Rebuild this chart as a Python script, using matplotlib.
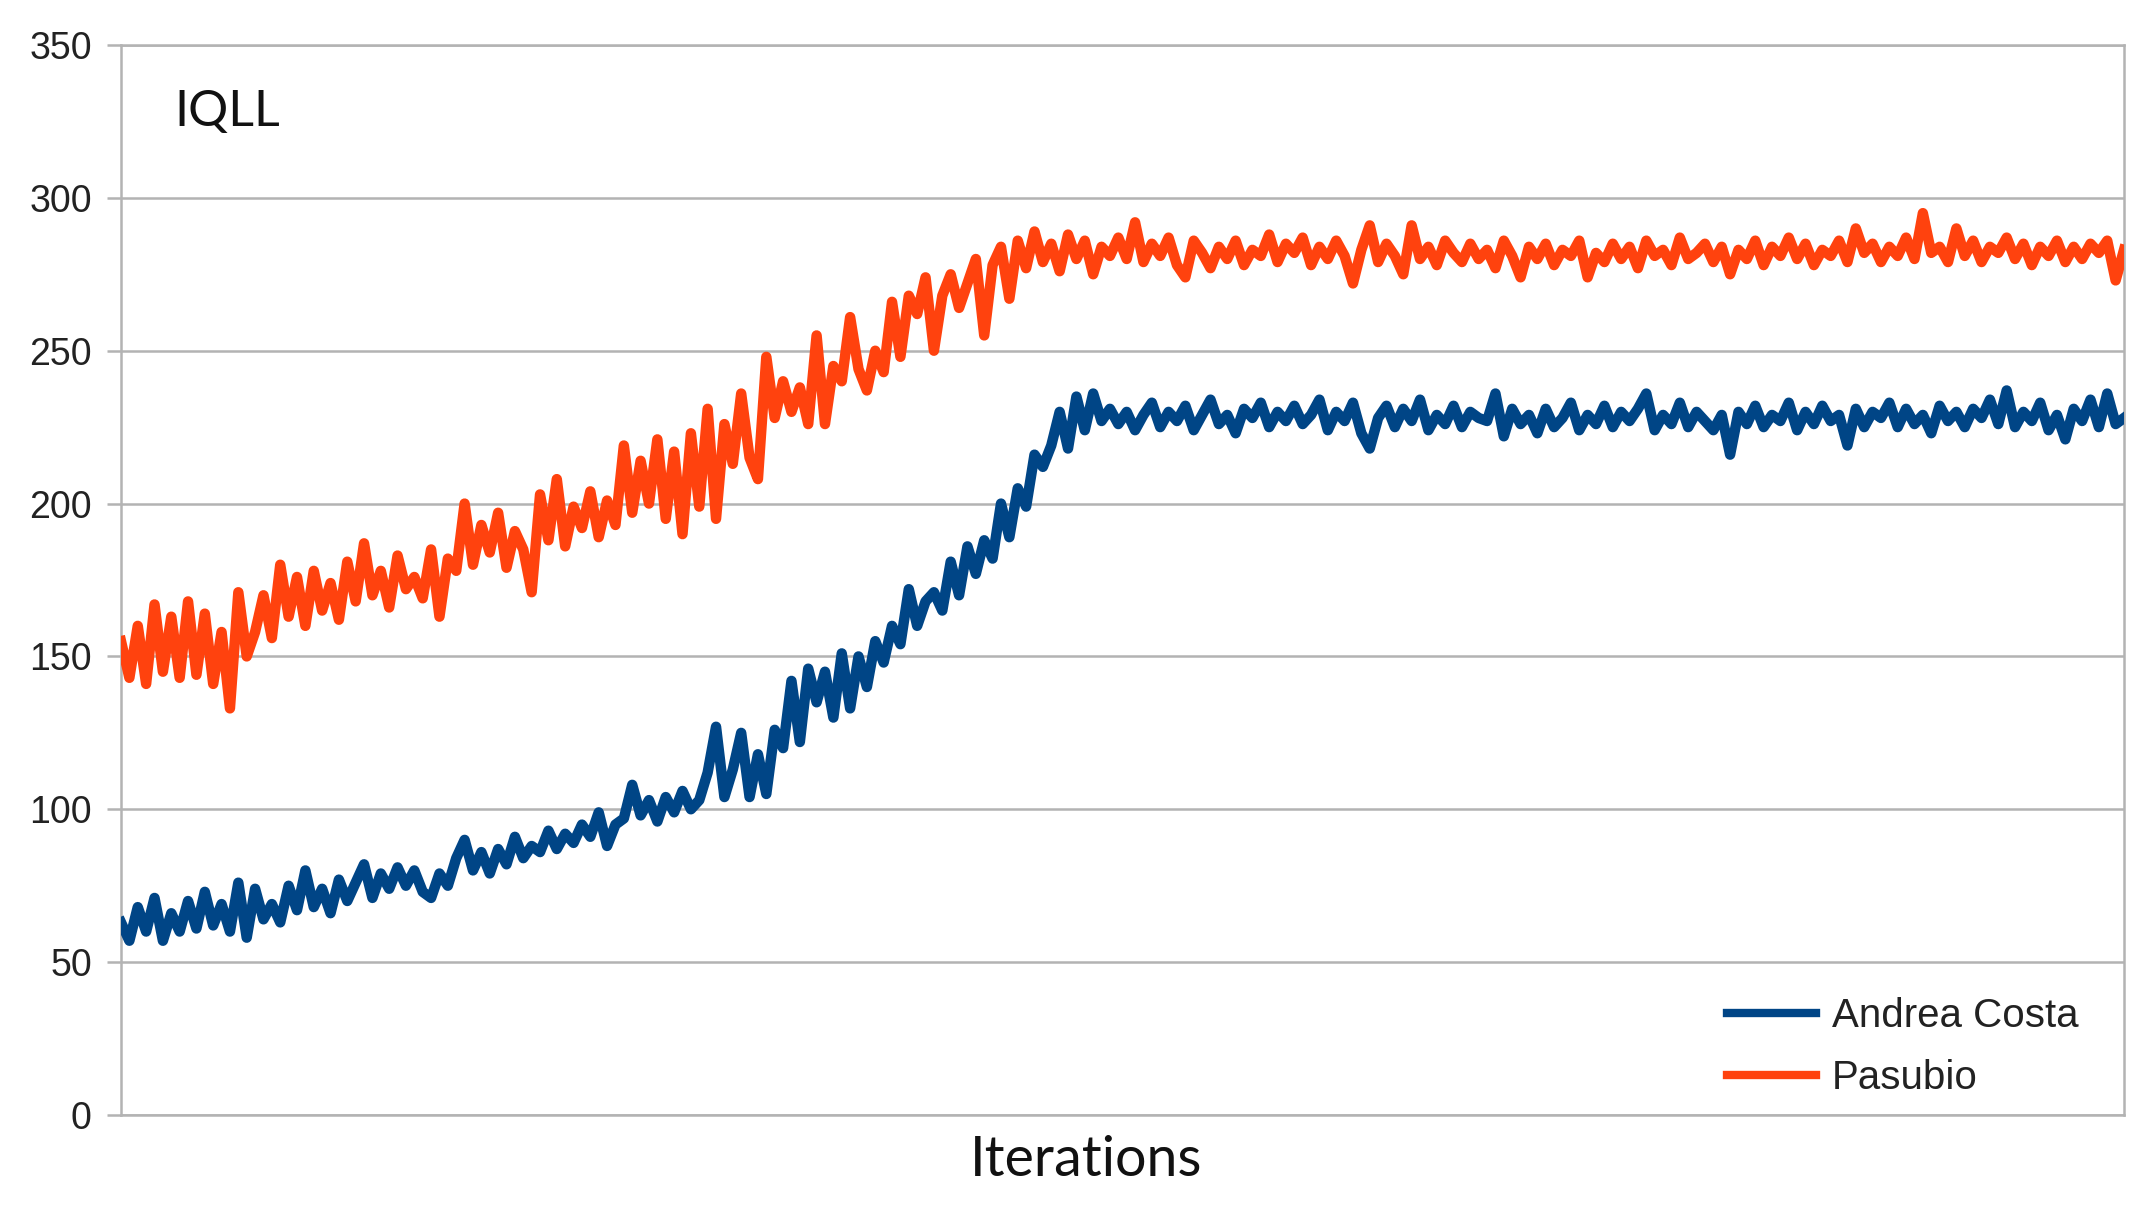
import matplotlib.pyplot as plt

# valores (IQLL por iteracion)
andrea_costa = [
    63, 57, 68, 60, 71, 57, 66, 60, 70, 61,
    73, 62, 69, 60, 76, 58, 74, 64, 69, 63,
    75, 67, 80, 68, 74, 66, 77, 70, 76, 82,
    71, 79, 74, 81, 75, 80, 73, 71, 79, 75,
    84, 90, 80, 86, 79, 87, 82, 91, 84, 88,
    86, 93, 87, 92, 89, 95, 91, 99, 88, 95,
    97, 108, 98, 103, 96, 104, 99, 106, 100, 103,
    112, 127, 104, 113, 125, 104, 118, 105, 126, 120,
    142, 122, 146, 135, 145, 130, 151, 133, 150, 140,
    155, 148, 160, 154, 172, 160, 168, 171, 165, 181,
    170, 186, 177, 188, 182, 200, 189, 205, 199, 216,
    212, 219, 230, 218, 235, 224, 236, 227, 231, 226,
    230, 224, 229, 233, 225, 230, 227, 232, 224, 229,
    234, 226, 229, 223, 231, 228, 233, 225, 230, 227,
    232, 226, 229, 234, 224, 230, 227, 233, 223, 218,
    228, 232, 225, 231, 227, 234, 224, 229, 226, 232,
    225, 230, 228, 227, 236, 222, 231, 226, 229, 223,
    231, 225, 228, 233, 224, 229, 226, 232, 225, 230,
    227, 231, 236, 224, 229, 226, 233, 225, 230, 227,
    224, 229, 216, 230, 226, 232, 225, 229, 227, 233,
    224, 230, 226, 232, 227, 229, 219, 231, 225, 230,
    228, 233, 225, 231, 226, 229, 223, 232, 227, 230,
    225, 231, 228, 234, 226, 237, 225, 230, 227, 233,
    224, 229, 221, 231, 227, 234, 225, 236, 226, 228,
]

pasubio = [
    155, 143, 160, 141, 167, 145, 163, 143, 168, 144,
    164, 141, 158, 133, 171, 150, 158, 170, 156, 180,
    163, 176, 160, 178, 165, 174, 162, 181, 168, 187,
    170, 178, 166, 183, 172, 176, 169, 185, 163, 182,
    178, 200, 180, 193, 184, 197, 179, 191, 185, 171,
    203, 188, 208, 186, 199, 192, 204, 189, 201, 193,
    219, 197, 214, 200, 221, 195, 217, 190, 223, 199,
    231, 195, 226, 213, 236, 215, 208, 248, 228, 240,
    230, 238, 226, 255, 226, 245, 240, 261, 244, 237,
    250, 243, 266, 248, 268, 262, 274, 250, 268, 275,
    264, 272, 280, 255, 278, 284, 267, 286, 277, 289,
    279, 285, 276, 288, 280, 286, 275, 284, 281, 287,
    280, 292, 279, 285, 281, 287, 278, 274, 286, 282,
    277, 284, 280, 286, 278, 283, 281, 288, 279, 285,
    282, 287, 278, 284, 280, 286, 281, 272, 283, 291,
    279, 285, 281, 275, 291, 280, 284, 278, 286, 282,
    279, 285, 280, 283, 277, 286, 281, 274, 284, 280,
    285, 278, 283, 281, 286, 274, 282, 279, 285, 280,
    284, 277, 286, 281, 283, 278, 287, 280, 282, 285,
    279, 284, 275, 283, 280, 286, 278, 284, 281, 287,
    280, 285, 278, 283, 281, 286, 279, 290, 282, 285,
    279, 284, 281, 287, 280, 295, 282, 284, 279, 290,
    281, 286, 279, 284, 282, 287, 280, 285, 278, 284,
    281, 286, 279, 284, 280, 285, 282, 286, 273, 283,
]

iteraciones = list(range(len(andrea_costa)))
yticks = [0, 50, 100, 150, 200, 250, 300, 350]

fig = plt.figure(figsize=(21.53, 12.11), dpi=100)
ax = fig.add_axes([121/2153, 1 - 1115/1211, (2124-121)/2153, (1115-45)/1211])

ax.plot(iteraciones, andrea_costa, color='#004586', lw=7.5, label='Andrea Costa', zorder=3)
ax.plot(iteraciones, pasubio, color='#ff420e', lw=7.5, label='Pasubio', zorder=3)

ax.set_xlim(0, len(iteraciones) - 1)
ax.set_ylim(0, 350)
ax.set_yticks(yticks)
ax.set_xticks([])
ax.grid(axis='y', color='#b3b3b3', lw=1.8, zorder=0)
for s in ax.spines.values():
    s.set_color('#b3b3b3')
    s.set_linewidth(1.8)
ax.tick_params(axis='y', length=10, width=1.8, color='#b3b3b3', pad=11,
               labelsize=27, labelcolor='#222222')
for t in ax.get_yticklabels():
    t.set_family('Liberation Sans')

fig.text(174/2153, 1 - 126/1211, 'IQLL', family='Lato', fontsize=36,
         va='baseline', ha='left', color='#111111')
fig.text(1086/2153, 1 - 1176/1211, 'Iterations', family='Lato', fontsize=40,
         va='baseline', ha='center', color='#111111')

leg = ax.legend(loc='upper left', bbox_to_anchor=(1727/2153, 1 - 997/1211),
                bbox_transform=fig.transFigure, frameon=False, borderpad=0,
                borderaxespad=0, handlelength=2.2, handletextpad=0.4,
                labelspacing=0.6, prop={'family': 'Liberation Sans', 'size': 29})
for l in leg.get_lines():
    l.set_linewidth(6)
for t in leg.get_texts():
    t.set_color('#222222')

fig.savefig('out.png', dpi=100)
